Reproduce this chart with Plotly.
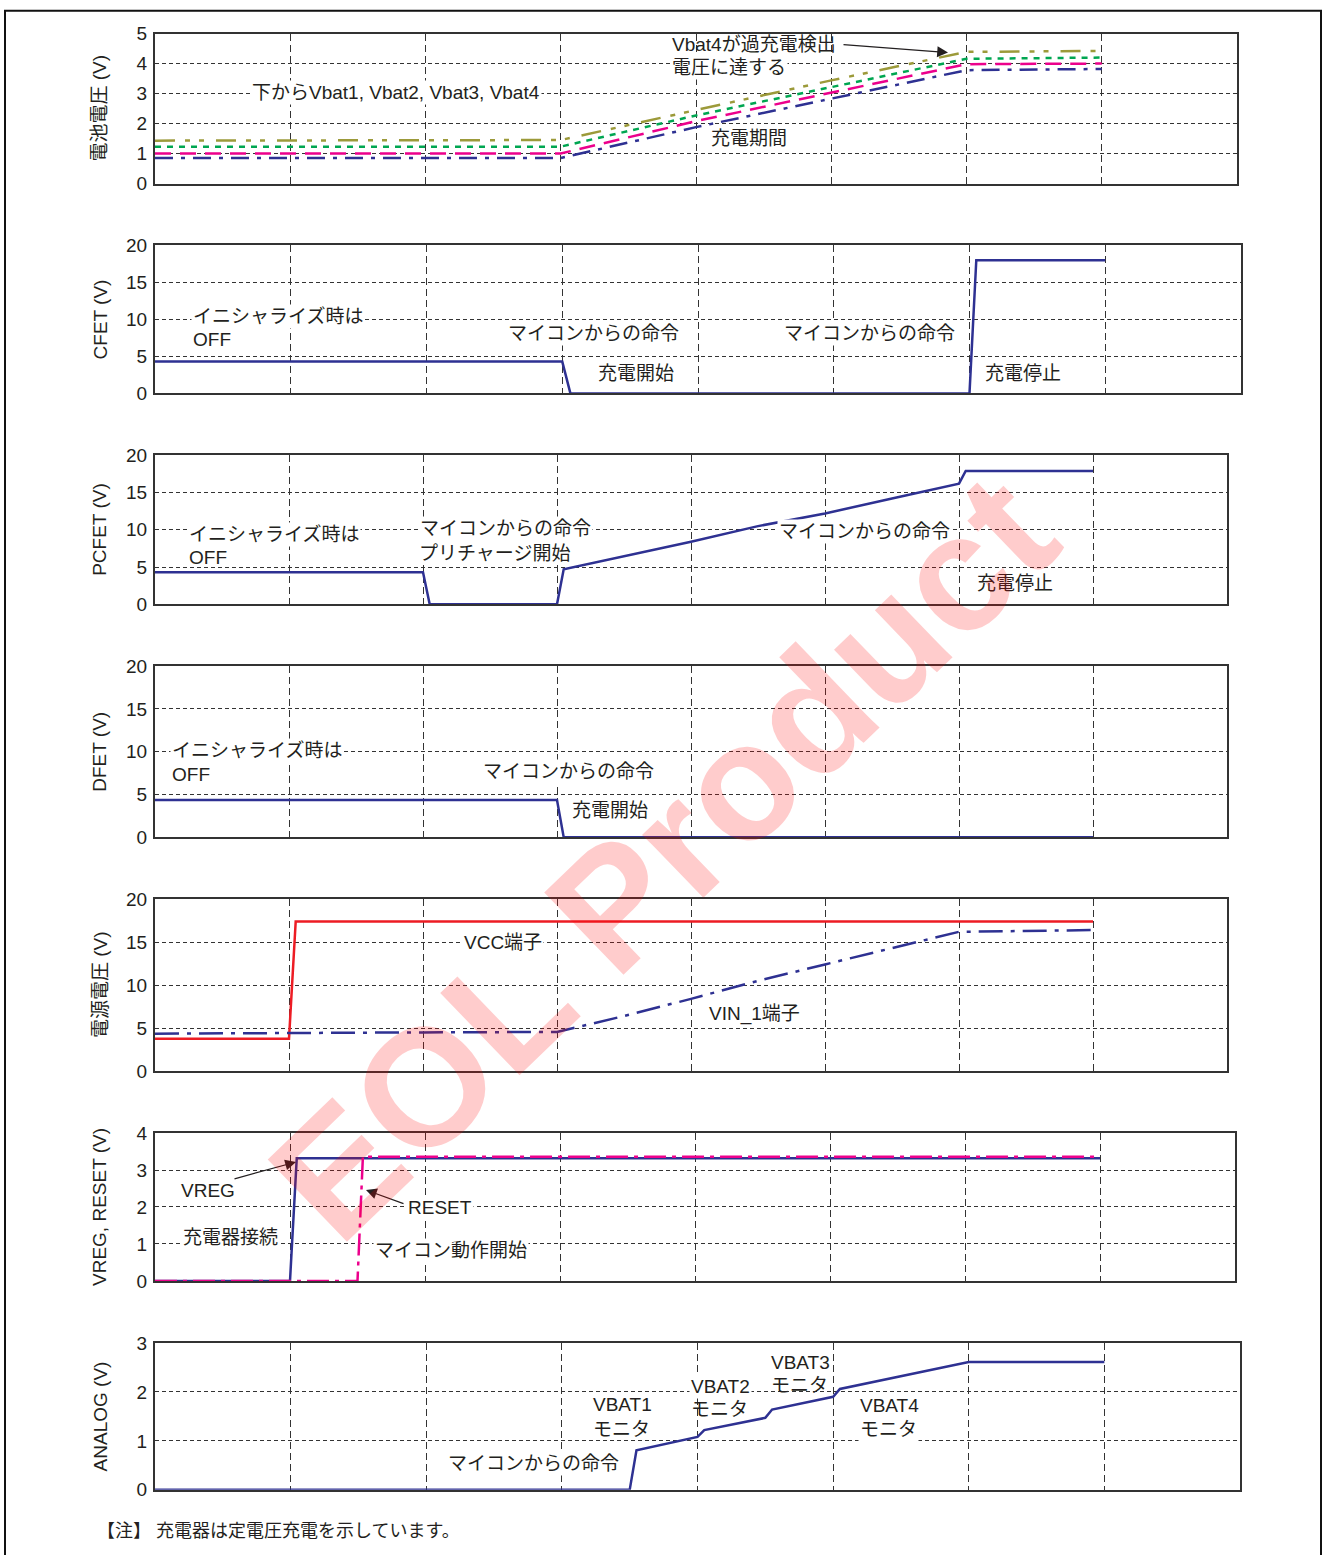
import plotly.graph_objects as go

W, H = 1324, 1555

# ---------------- data (x in grid divisions, y in volts) ----------------
t_bat = [0, 3, 4, 5, 6, 7]
vbat1 = [0.85, 0.85, 1.88, 2.82, 3.78, 3.82]
vbat2 = [1.00, 1.00, 2.08, 3.02, 3.98, 4.00]
vbat3 = [1.23, 1.23, 2.27, 3.22, 4.16, 4.20]
vbat4 = [1.43, 1.45, 2.45, 3.44, 4.39, 4.42]

t_cfet = [0, 3, 3.06, 6, 6.05, 7]
cfet = [4.3, 4.3, 0, 0, 18, 18]

t_pcfet = [0, 2, 2.05, 3, 3.05, 4, 4.5, 5, 5.5, 6, 6.05, 7]
pcfet = [4.3, 4.3, 0, 0, 4.7, 8.4, 10.5, 12.2, 14.2, 16.2, 17.9, 17.9]

t_dfet = [0, 3, 3.05, 7]
dfet = [4.35, 4.35, 0, 0]

t_vcc = [0, 1, 1.05, 7]
vcc = [3.75, 3.75, 17.4, 17.4]
t_vin = [0, 1, 2, 3, 3.5, 4, 4.5, 5, 5.5, 6, 7]
vin = [4.35, 4.45, 4.5, 4.55, 6.4, 8.4, 10.5, 12.4, 14.3, 16.2, 16.4]

t_vreg = [0, 1, 1.05, 7]
vreg = [0, 0, 3.32, 3.32]
t_reset = [0, 1.5, 1.54, 7]
reset = [0, 0, 3.36, 3.36]

t_analog = [0, 3.5, 3.55, 4.0, 4.05, 4.5, 4.55, 5.0, 5.05, 6.0, 7.0]
analog = [0, 0, 0.81, 1.08, 1.22, 1.47, 1.64, 1.90, 2.06, 2.61, 2.61]

y_titles = ["電池電圧 (V)", "CFET (V)", "PCFET (V)", "DFET (V)",
            "電源電圧 (V)", "VREG, RESET (V)", "ANALOG (V)"]
y_max = [5, 20, 20, 20, 20, 4, 3]
y_ticks = [[0, 1, 2, 3, 4, 5], [0, 5, 10, 15, 20], [0, 5, 10, 15, 20],
           [0, 5, 10, 15, 20], [0, 5, 10, 15, 20], [0, 1, 2, 3, 4], [0, 1, 2, 3]]
x_grid = [1, 2, 3, 4, 5, 6, 7]

# ---------------- styling / layout ----------------
FONT = "Liberation Sans, Arial, Noto Sans CJK JP, sans-serif"
TXT = "#231f20"
NAVY = "#2e3192"
MAGENTA = "#ec008c"
GREEN = "#00a651"
OLIVE = "#9c9a3a"
RED = "#ed1c24"


def Y(py):
    # vertical page-position calibration of the photographed page
    return (py - 9.4) / 0.987


# panel boxes in pixels: (left, right, top, bottom)
boxes = [(155, 1237, 33, 183), (155, 1241, 245, 393), (155, 1227, 455, 604),
         (155, 1227, 666, 837), (155, 1227, 899, 1071), (155, 1235, 1133, 1281),
         (155, 1240, 1343, 1490)]

fig = go.Figure()


def ax_names(i):
    s = "" if i == 0 else str(i + 1)
    return "x" + s, "y" + s


def add_line(i, x, y, color, dash="solid", width=2.5):
    xa, ya = ax_names(i)
    fig.add_trace(go.Scatter(x=x, y=y, mode="lines", xaxis=xa, yaxis=ya,
                             line=dict(color=color, width=width, dash=dash),
                             showlegend=False, hoverinfo="skip"))


# panel 1
add_line(0, t_bat, vbat4, OLIVE, "20px,10px,5px,9px,5px,12px")
add_line(0, t_bat, vbat3, GREEN, "6px,6px")
add_line(0, t_bat, vbat2, MAGENTA, "16px,9px")
add_line(0, t_bat, vbat1, NAVY, "18px,8px,4px,8px")
# panel 2-4
add_line(1, t_cfet, cfet, NAVY)
add_line(2, t_pcfet, pcfet, NAVY)
add_line(3, t_dfet, dfet, NAVY)
# panel 5
add_line(4, t_vcc, vcc, RED)
add_line(4, t_vin, vin, NAVY, "24px,8px,4px,8px")
# panel 6
add_line(5, t_vreg, vreg, NAVY)
add_line(5, t_reset, reset, MAGENTA, "22px,6px,4px,6px")
# panel 7
add_line(6, t_analog, analog, NAVY)

layout = dict(width=W, height=H, margin=dict(l=0, r=0, t=0, b=0),
              paper_bgcolor="white", plot_bgcolor="white",
              font=dict(family=FONT, size=19, color=TXT), showlegend=False)

for i, (xl, xr, yt, yb) in enumerate(boxes):
    xa, ya = ax_names(i)
    xkey = "xaxis" + xa[1:]
    ykey = "yaxis" + ya[1:]
    layout[xkey] = dict(domain=[xl / W, xr / W], anchor=ya, range=[0, 8],
                        tickvals=x_grid, showticklabels=False, ticks="",
                        showgrid=True, gridcolor="#333333", gridwidth=1,
                        griddash="7px,4px", zeroline=False,
                        showline=True, mirror=True, linecolor="#333333",
                        linewidth=2, fixedrange=True)
    layout[ykey] = dict(domain=[1 - Y(yb) / H, 1 - Y(yt) / H], anchor=xa,
                        range=[0, y_max[i]], tickvals=y_ticks[i], ticks="",
                        ticklabelstandoff=2,
                        tickfont=dict(family=FONT, size=19, color=TXT),
                        showgrid=True, gridcolor="#333333", gridwidth=1,
                        griddash="4px,3px", zeroline=False,
                        showline=True, mirror=True, linecolor="#333333",
                        linewidth=2, fixedrange=True)

annotations = []


def ann(px, py, text, xanchor="center", size=19, bg=True, pad=1):
    a = dict(x=px / W, y=1 - Y(py) / H, xref="paper", yref="paper",
             text=text, showarrow=False, xanchor=xanchor,
             yanchor="middle", align="left",
             font=dict(family=FONT, size=size, color=TXT), borderpad=pad)
    if bg:
        a["bgcolor"] = "white"
    annotations.append(a)


def arrow(hx, hy, tx, ty):
    annotations.append(dict(x=hx / W, y=1 - Y(hy) / H, xref="paper", yref="paper",
                            ax=tx - hx, ay=Y(ty) - Y(hy), text="", showarrow=True,
                            arrowhead=2, arrowsize=1.8, arrowwidth=1.2,
                            arrowcolor=TXT))


# y-axis titles
for i, (xl, xr, yt, yb) in enumerate(boxes):
    annotations.append(dict(x=100 / W, y=1 - Y((yt + yb) / 2) / H, xref="paper",
                            yref="paper", text=y_titles[i], textangle=-90,
                            showarrow=False, xanchor="center", yanchor="middle",
                            font=dict(family=FONT, size=19, color=TXT)))

# panel 1
ann(396, 92, "下からVbat1, Vbat2, Vbat3, Vbat4")
ann(670, 44, "Vbat4が過充電検出", "left", bg=False)
ann(670, 67, "電圧に達する", "left")
arrow(948, 52, 842, 44)
ann(749, 138, "充電期間")
# panel 2
ann(191, 316, "イニシャライズ時は", "left")
ann(191, 339, "OFF", "left")
ann(593, 333, "マイコンからの命令")
ann(636, 373, "充電開始")
ann(869, 333, "マイコンからの命令")
ann(1023, 373, "充電停止")
# panel 3
ann(187, 534, "イニシャライズ時は", "left")
ann(187, 557, "OFF", "left", bg=False)
ann(418, 528, "マイコンからの命令", "left")
ann(418, 553, "プリチャージ開始", "left", pad=0)
ann(864, 531, "マイコンからの命令")
ann(1015, 583, "充電停止")
# panel 4
ann(170, 750, "イニシャライズ時は", "left")
ann(170, 774, "OFF", "left")
ann(568, 771, "マイコンからの命令")
ann(610, 810, "充電開始")
# panel 5
ann(503, 942, "VCC端子")
ann(754, 1014, "VIN_1端子")
# panel 6
ann(208, 1191, "VREG")
arrow(296, 1162, 233, 1179)
ann(440, 1208, "RESET")
arrow(366, 1190, 405, 1204)
ann(230, 1238, "充電器接続")
ann(451, 1251, "マイコン動作開始")
# panel 7
ann(591, 1405, "VBAT1", "left")
ann(591, 1430, "モニタ", "left", bg=False)
ann(689, 1387, "VBAT2", "left")
ann(689, 1410, "モニタ", "left", bg=False)
ann(769, 1363, "VBAT3", "left")
ann(769, 1386, "モニタ", "left", bg=False)
ann(858, 1406, "VBAT4", "left")
ann(858, 1430, "モニタ", "left")
ann(533, 1464, "マイコンからの命令")
# footnote
ann(95, 1531, "【注】 充電器は定電圧充電を示しています。", "left", size=18, bg=False)

# watermark
annotations.append(dict(x=662 / W, y=1 - Y(857) / H, xref="paper", yref="paper",
                        text="<b>EOL Product</b>", showarrow=False, textangle=-44,
                        xanchor="center", yanchor="middle",
                        font=dict(family="Liberation Sans, Arial, sans-serif",
                                  size=166, color="rgba(255,0,0,0.2)")))

layout["annotations"] = annotations
layout["shapes"] = [dict(type="rect", xref="paper", yref="paper",
                         x0=5 / W, x1=1321 / W, y0=-0.01, y1=1 - 0.8 / H,
                         line=dict(color="#111111", width=2))]

fig.update_layout(**layout)

# place the figure at the very top-left of the page (no default body margin)
post = ("document.documentElement.style.margin='0';"
        "document.body.style.margin='0';document.body.style.padding='0';"
        "document.body.style.overflow='hidden';"
        "var gd=document.getElementById('{plot_id}');"
        "gd.style.position='absolute';gd.style.left='0px';gd.style.top='0px';")
fig.write_html("out.html", post_script=post, config={"displayModeBar": False})
